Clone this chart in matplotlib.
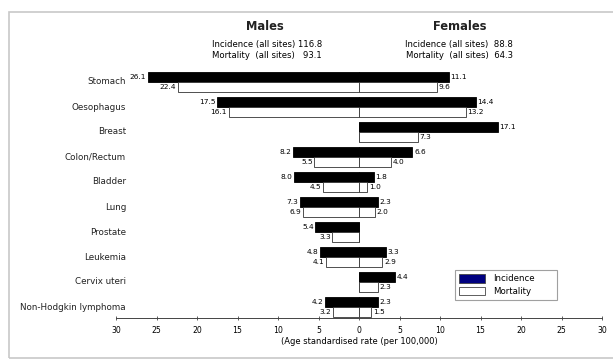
import numpy as np
import matplotlib
matplotlib.use("Agg")
from matplotlib import pyplot as plt
from matplotlib.patches import Rectangle, Patch

# data
sites = ["Stomach", "Oesophagus", "Breast", "Colon/Rectum", "Bladder", "Lung",
         "Prostate", "Leukemia", "Cervix uteri", "Non-Hodgkin lymphoma"]
male_inc = [26.1, 17.5, 0.0, 8.2, 8.0, 7.3, 5.4, 4.8, 0.0, 4.2]
male_mort = [22.4, 16.1, 0.0, 5.5, 4.5, 6.9, 3.3, 4.1, 0.0, 3.2]
female_inc = [11.1, 14.4, 17.1, 6.6, 1.8, 2.3, 0.0, 3.3, 4.4, 2.3]
female_mort = [9.6, 13.2, 7.3, 4.0, 1.0, 2.0, 0.0, 2.9, 2.3, 1.5]
xticks = [-30, -25, -20, -15, -10, -5, 0, 5, 10, 15, 20, 25, 30]

W, H = 613, 360
fig = plt.figure(figsize=(W / 100, H / 100), dpi=100)

# outer grey frame
fig.patches.append(Rectangle((9 / W, 1 - 358 / H), (W + 5 - 9) / W, (358 - 12) / H,
                             transform=fig.transFigure, fill=False,
                             edgecolor="#c8c8c8", linewidth=1.2))

x0, x1 = 116, 602
ytop, ybot = 65, 318
ax = fig.add_axes([x0 / W, 1 - ybot / H, (x1 - x0) / W, (ybot - ytop) / H])

y = np.arange(len(sites))
hb = 0.4
ec = "#333333"
ax.barh(y - hb / 2, -np.array(male_inc), height=hb, color="black", edgecolor="black", linewidth=0.6)
ax.barh(y + hb / 2, -np.array(male_mort), height=hb, color="white", edgecolor=ec, linewidth=0.6)
ax.barh(y - hb / 2, female_inc, height=hb, color="black", edgecolor="black", linewidth=0.6)
ax.barh(y + hb / 2, female_mort, height=hb, color="white", edgecolor=ec, linewidth=0.6)

fs = 5.3
for i in range(len(sites)):
    if male_inc[i] > 0:
        ax.text(-male_inc[i] - 0.2, y[i] - hb / 2, f"{male_inc[i]:.1f}", ha="right", va="center", fontsize=fs)
    if male_mort[i] > 0:
        ax.text(-male_mort[i] - 0.2, y[i] + hb / 2, f"{male_mort[i]:.1f}", ha="right", va="center", fontsize=fs)
    if female_inc[i] > 0:
        ax.text(female_inc[i] + 0.2, y[i] - hb / 2, f"{female_inc[i]:.1f}", ha="left", va="center", fontsize=fs)
    if female_mort[i] > 0:
        ax.text(female_mort[i] + 0.2, y[i] + hb / 2, f"{female_mort[i]:.1f}", ha="left", va="center", fontsize=fs)
    ax.text((126 - x0) / (x1 - x0), y[i], sites[i], transform=ax.get_yaxis_transform(),
            ha="right", va="center", fontsize=6.3, color="#222222")

ax.set_xlim(-30, 30)
ax.set_ylim(len(sites) - 1 + 0.44, -0.68)
ax.set_yticks([])
ax.set_xticks(xticks)
ax.set_xticklabels([str(abs(t)) for t in xticks], fontsize=5.6)
ax.tick_params(axis="x", direction="inout", length=3, width=0.6, pad=4, color="#444444")
for s in ["top", "left", "right"]:
    ax.spines[s].set_visible(False)
ax.spines["bottom"].set_linewidth(0.7)
ax.spines["bottom"].set_color("#444444")
ax.set_xlabel("(Age standardised rate (per 100,000)", fontsize=6.0, labelpad=2)

# headers
fig.text(265 / W, 1 - 27 / H, "Males", ha="center", va="center", fontsize=8.3, fontweight="bold", color="#222222")
fig.text(460 / W, 1 - 27 / H, "Females", ha="center", va="center", fontsize=8.3, fontweight="bold", color="#222222")
fig.text(267 / W, 1 - 45 / H, "Incidence (all sites) 116.8", ha="center", va="center", fontsize=6.1)
fig.text(267 / W, 1 - 56 / H, "Mortality  (all sites)   93.1", ha="center", va="center", fontsize=6.1)
fig.text(459 / W, 1 - 45 / H, "Incidence (all sites)  88.8", ha="center", va="center", fontsize=6.1)
fig.text(459 / W, 1 - 56 / H, "Mortality  (all sites)  64.3", ha="center", va="center", fontsize=6.1)

handles = [Patch(facecolor="#000080", edgecolor="#444444", linewidth=0.6, label="Incidence"),
           Patch(facecolor="white", edgecolor="#444444", linewidth=0.6, label="Mortality")]
leg = fig.legend(handles=handles, loc="upper left",
                 bbox_to_anchor=(455 / W, 1 - 306 / H, 102 / W, 36 / H), mode="expand",
                 borderaxespad=0, fontsize=6.2, handlelength=3.0, handleheight=1.2, borderpad=0.45,
                 labelspacing=0.4, handletextpad=1.0, fancybox=False, frameon=True)
leg.get_frame().set_edgecolor("#888888")
leg.get_frame().set_linewidth(0.8)

fig.savefig("out.png", dpi=100)
